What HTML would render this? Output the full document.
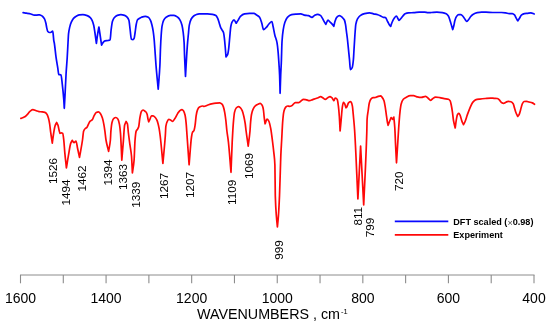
<!DOCTYPE html>
<html><head><meta charset="utf-8"><style>
html,body{margin:0;padding:0;background:#fff;width:550px;height:326px;overflow:hidden}
svg{display:block;will-change:transform}
.t{font-family:"Liberation Sans",sans-serif;font-size:14px;fill:#000}
.l{font-family:"Liberation Sans",sans-serif;font-size:11.7px;fill:#000}
.g{font-family:"Liberation Sans",sans-serif;font-size:9.1px;font-weight:bold;fill:#000}
</style></head><body>
<svg width="550" height="326" viewBox="0 0 550 326">
<path d="M23.10,12.70 C24.23,12.87 25.37,13.02 26.50,13.20 C27.97,13.44 29.43,13.65 30.90,14.00 C32.00,14.26 33.10,15.10 34.20,15.10 C35.10,15.10 36.00,15.10 36.90,15.10 C37.80,15.10 38.70,14.80 39.60,14.80 C40.53,14.80 41.47,15.51 42.40,16.20 C43.10,16.71 43.80,17.59 44.50,18.90 C44.97,19.78 45.43,21.40 45.90,23.30 C46.17,24.38 46.43,26.45 46.70,27.60 C47.07,29.18 47.43,31.11 47.80,31.50 C48.37,32.10 48.93,32.50 49.50,32.50 C50.03,32.50 50.57,32.36 51.10,32.20 C51.63,32.04 52.17,31.10 52.70,31.10 C52.90,31.10 53.10,33.59 53.30,35.30 C53.47,36.72 53.63,39.62 53.80,40.70 C53.97,41.78 54.13,42.07 54.30,43.00 C54.90,46.35 55.50,53.48 56.10,57.70 C56.70,61.92 57.30,64.83 57.90,68.80 C58.17,70.56 58.43,74.24 58.70,74.40 C59.47,74.85 60.23,74.58 61.00,75.00 C61.43,75.24 61.87,80.64 62.30,84.30 C62.80,88.52 63.30,93.21 63.80,99.90 C63.97,102.13 64.13,105.50 64.30,108.30 C64.53,104.00 64.77,99.87 65.00,95.40 C65.37,88.37 65.73,79.40 66.10,73.30 C66.47,67.20 66.83,63.61 67.20,57.70 C67.47,53.40 67.73,47.79 68.00,43.00 C68.17,40.01 68.33,35.79 68.50,34.20 C68.87,30.70 69.23,29.16 69.60,27.60 C70.17,25.19 70.73,23.48 71.30,22.20 C72.03,20.54 72.77,19.22 73.50,18.40 C74.40,17.39 75.30,16.71 76.20,16.20 C77.30,15.58 78.40,14.86 79.50,14.80 C80.63,14.74 81.77,14.70 82.90,14.70 C84.33,14.70 85.77,15.13 87.20,15.60 C88.23,15.94 89.27,16.63 90.30,17.60 C90.90,18.16 91.50,19.08 92.10,20.30 C92.63,21.38 93.17,22.99 93.70,25.20 C94.10,26.86 94.50,29.85 94.90,32.50 C95.40,35.81 95.90,39.83 96.40,43.50 C96.80,40.47 97.20,37.01 97.60,34.40 C98.03,31.58 98.47,29.47 98.90,27.00 C99.30,29.67 99.70,32.31 100.10,35.00 C100.60,38.37 101.10,41.80 101.60,45.20 C102.13,44.27 102.67,43.01 103.20,42.40 C103.80,41.72 104.40,41.04 105.00,40.90 C106.03,40.65 107.07,40.69 108.10,40.50 C108.77,40.38 109.43,40.33 110.10,39.90 C110.43,39.68 110.77,32.76 111.10,30.10 C111.53,26.65 111.97,22.90 112.40,21.50 C113.00,19.56 113.60,18.50 114.20,17.80 C115.23,16.59 116.27,15.73 117.30,15.40 C118.50,15.02 119.70,14.70 120.90,14.70 C122.13,14.70 123.37,15.02 124.60,15.40 C125.43,15.66 126.27,16.33 127.10,17.20 C127.70,17.82 128.30,18.54 128.90,20.30 C129.30,21.47 129.70,26.46 130.10,29.50 C130.53,32.79 130.97,39.08 131.40,39.30 C131.93,39.57 132.47,39.70 133.00,39.70 C133.40,39.70 133.80,39.01 134.20,38.10 C134.50,37.42 134.80,34.48 135.10,32.50 C135.50,29.86 135.90,25.90 136.30,24.00 C136.70,22.10 137.10,20.16 137.50,19.70 C137.83,19.32 138.17,19.22 138.50,19.00 C139.50,18.35 140.50,17.55 141.50,17.20 C142.73,16.77 143.97,16.30 145.20,16.30 C146.23,16.30 147.27,16.68 148.30,17.20 C149.03,17.57 149.77,18.82 150.50,20.30 C151.00,21.31 151.50,23.20 152.00,25.20 C152.40,26.80 152.80,28.72 153.20,31.30 C153.53,33.45 153.87,36.33 154.20,39.90 C154.40,42.04 154.60,45.22 154.80,48.00 C155.20,53.56 155.60,60.27 156.00,65.30 C156.73,74.51 157.47,81.23 158.20,89.20 C158.77,81.23 159.33,76.63 159.90,65.30 C160.10,61.30 160.30,52.54 160.50,48.00 C160.73,42.70 160.97,38.20 161.20,35.00 C161.47,31.35 161.73,27.98 162.00,26.40 C162.53,23.23 163.07,21.34 163.60,20.30 C164.43,18.68 165.27,17.75 166.10,17.20 C167.53,16.26 168.97,15.40 170.40,15.40 C171.60,15.40 172.80,15.40 174.00,15.40 C175.23,15.40 176.47,16.31 177.70,17.20 C178.53,17.80 179.37,18.85 180.20,20.30 C180.80,21.34 181.40,22.88 182.00,25.20 C182.40,26.74 182.80,29.32 183.20,32.50 C183.50,34.88 183.80,37.40 184.10,42.40 C184.27,45.18 184.43,52.70 184.60,56.90 C184.90,64.47 185.20,69.97 185.50,76.50 C185.87,69.97 186.23,62.75 186.60,56.90 C186.93,51.58 187.27,46.44 187.60,42.40 C187.83,39.57 188.07,37.38 188.30,35.00 C188.63,31.60 188.97,26.92 189.30,25.20 C189.93,21.93 190.57,20.14 191.20,19.00 C192.03,17.51 192.87,16.64 193.70,16.00 C194.47,15.41 195.23,14.98 196.00,14.70 C197.03,14.33 198.07,13.90 199.10,13.90 C201.90,13.90 204.70,13.90 207.50,13.90 C209.17,13.90 210.83,14.13 212.50,14.40 C213.63,14.58 214.77,14.91 215.90,15.60 C216.47,15.95 217.03,16.98 217.60,18.10 C218.17,19.22 218.73,21.43 219.30,23.20 C219.73,24.55 220.17,26.39 220.60,27.40 C221.00,28.33 221.40,28.89 221.80,29.60 C222.37,30.60 222.93,30.87 223.50,32.50 C223.80,33.36 224.10,35.97 224.40,38.40 C224.67,40.56 224.93,43.74 225.20,46.80 C225.47,49.86 225.73,53.53 226.00,56.90 C226.57,56.07 227.13,55.81 227.70,54.40 C228.00,53.65 228.30,51.48 228.60,49.30 C229.00,46.40 229.40,40.84 229.80,36.70 C230.13,33.25 230.47,28.37 230.80,26.50 C231.17,24.45 231.53,23.00 231.90,22.30 C232.60,20.96 233.30,19.80 234.00,19.80 C234.73,19.80 235.47,22.07 236.20,23.20 C236.87,22.17 237.53,21.17 238.20,20.10 C238.93,18.92 239.67,17.08 240.40,16.40 C241.80,15.10 243.20,14.14 244.60,13.90 C246.27,13.61 247.93,13.40 249.60,13.40 C251.07,13.40 252.53,13.40 254.00,13.40 C254.73,13.40 255.47,14.22 256.20,14.70 C257.33,15.45 258.47,15.90 259.60,17.30 C260.33,18.21 261.07,20.89 261.80,23.20 C262.37,24.99 262.93,29.60 263.50,29.60 C264.43,29.60 265.37,28.32 266.30,27.40 C267.17,26.55 268.03,24.89 268.90,24.00 C269.90,22.98 270.90,21.50 271.90,21.50 C272.30,21.50 272.70,24.69 273.10,26.50 C273.67,29.06 274.23,32.67 274.80,35.00 C275.53,38.02 276.27,38.84 277.00,42.60 C277.37,44.48 277.73,47.91 278.10,51.80 C278.37,54.63 278.63,58.88 278.90,63.00 C279.13,66.60 279.37,69.44 279.60,75.00 C279.77,78.97 279.93,87.20 280.10,93.30 C280.30,87.20 280.50,79.83 280.70,75.00 C280.90,70.17 281.10,67.80 281.30,63.00 C281.53,57.40 281.77,45.33 282.00,41.70 C282.40,35.48 282.80,32.41 283.20,29.90 C283.77,26.34 284.33,23.90 284.90,22.30 C285.73,19.94 286.57,18.12 287.40,17.30 C288.80,15.91 290.20,14.98 291.60,14.70 C293.00,14.42 294.40,14.31 295.80,14.20 C297.50,14.06 299.20,13.90 300.90,13.90 C302.03,13.90 303.17,14.89 304.30,15.10 C305.70,15.35 307.10,15.33 308.50,15.60 C309.67,15.83 310.83,17.30 312.00,17.30 C312.80,17.30 313.60,15.79 314.40,15.40 C315.47,14.88 316.53,14.30 317.60,14.30 C318.53,14.30 319.47,14.81 320.40,15.40 C321.10,15.84 321.80,17.26 322.50,18.40 C323.07,19.32 323.63,20.57 324.20,21.60 C324.73,22.57 325.27,23.47 325.80,24.40 C326.53,23.00 327.27,20.20 328.00,20.20 C328.73,20.20 329.47,21.50 330.20,22.20 C330.93,22.90 331.67,23.55 332.40,24.40 C332.87,24.94 333.33,25.67 333.80,26.30 C334.23,24.57 334.67,22.40 335.10,21.10 C335.63,19.50 336.17,17.85 336.70,17.30 C337.63,16.35 338.57,15.60 339.50,15.60 C340.40,15.60 341.30,16.54 342.20,17.30 C342.93,17.92 343.67,18.54 344.40,20.00 C344.77,20.73 345.13,22.47 345.50,24.40 C345.83,26.16 346.17,29.48 346.50,32.00 C346.77,34.01 347.03,35.76 347.30,38.00 C347.70,41.36 348.10,45.77 348.50,49.70 C348.83,52.98 349.17,56.11 349.50,59.60 C349.80,62.74 350.10,69.60 350.40,69.60 C351.00,69.60 351.60,68.80 352.20,67.60 C352.60,66.80 353.00,63.59 353.40,59.60 C353.60,57.61 353.80,52.97 354.00,49.70 C354.20,46.43 354.40,43.11 354.60,40.00 C354.80,36.89 355.00,33.54 355.20,31.00 C355.40,28.46 355.60,25.50 355.80,24.40 C356.37,21.30 356.93,19.94 357.50,18.90 C358.40,17.25 359.30,16.21 360.20,15.60 C361.63,14.64 363.07,14.04 364.50,13.70 C366.17,13.30 367.83,12.90 369.50,12.90 C370.83,12.90 372.17,13.51 373.50,13.80 C374.93,14.11 376.37,14.28 377.80,14.70 C378.90,15.02 380.00,15.67 381.10,16.20 C381.83,16.55 382.57,17.14 383.30,17.30 C384.03,17.46 384.77,17.41 385.50,17.60 C386.20,17.78 386.90,20.19 387.60,21.50 C388.17,22.56 388.73,23.87 389.30,24.70 C389.77,25.38 390.23,25.83 390.70,26.40 C391.13,25.10 391.57,23.54 392.00,22.50 C392.73,20.73 393.47,19.17 394.20,18.20 C394.93,17.23 395.67,16.00 396.40,16.00 C396.93,16.00 397.47,17.84 398.00,18.70 C398.37,19.29 398.73,20.40 399.10,20.40 C399.63,20.40 400.17,19.31 400.70,18.70 C401.43,17.87 402.17,16.81 402.90,16.00 C403.63,15.19 404.37,14.13 405.10,13.80 C406.20,13.31 407.30,12.98 408.40,12.90 C410.20,12.77 412.00,12.79 413.80,12.70 C415.63,12.60 417.47,12.20 419.30,12.20 C421.10,12.20 422.90,12.20 424.70,12.20 C425.80,12.20 426.90,12.70 428.00,12.70 C429.17,12.70 430.33,12.57 431.50,12.50 C433.30,12.40 435.10,12.20 436.90,12.20 C438.73,12.20 440.57,12.44 442.40,12.70 C443.67,12.88 444.93,13.20 446.20,13.80 C446.93,14.15 447.67,14.90 448.40,16.00 C448.93,16.80 449.47,18.78 450.00,20.40 C450.53,22.02 451.07,23.98 451.60,25.80 C451.97,27.05 452.33,28.33 452.70,29.60 C453.07,28.33 453.43,27.29 453.80,25.80 C454.17,24.31 454.53,21.62 454.90,20.40 C455.43,18.63 455.97,17.17 456.50,16.50 C457.23,15.58 457.97,14.70 458.70,14.70 C459.43,14.70 460.17,14.70 460.90,14.70 C461.63,14.70 462.37,15.72 463.10,16.50 C463.83,17.28 464.57,18.78 465.30,19.80 C465.73,20.40 466.17,21.50 466.60,21.50 C467.23,21.50 467.87,20.51 468.50,19.80 C469.23,18.98 469.97,17.36 470.70,16.50 C471.43,15.64 472.17,14.82 472.90,14.40 C474.37,13.55 475.83,12.96 477.30,12.70 C478.73,12.44 480.17,12.20 481.60,12.20 C483.07,12.20 484.53,12.20 486.00,12.20 C488.23,12.20 490.47,12.50 492.70,12.50 C495.63,12.50 498.57,12.50 501.50,12.50 C502.93,12.50 504.37,12.71 505.80,12.90 C506.90,13.04 508.00,13.60 509.10,13.60 C510.20,13.60 511.30,13.60 512.40,13.60 C513.10,13.60 513.80,14.23 514.50,14.90 C515.07,15.44 515.63,17.18 516.20,18.20 C516.73,19.16 517.27,20.00 517.80,20.90 C518.37,20.00 518.93,19.10 519.50,18.20 C520.20,17.09 520.90,15.42 521.60,14.90 C522.53,14.21 523.47,13.75 524.40,13.60 C525.47,13.43 526.53,13.41 527.60,13.30 C528.70,13.18 529.80,12.90 530.90,12.90 C532.00,12.90 533.10,13.63 534.20,14.00" fill="none" stroke="#0808ff" stroke-width="1.7" stroke-linejoin="round" stroke-linecap="round"/>
<path d="M20.90,118.40 C22.00,117.97 23.10,117.69 24.20,117.10 C25.10,116.62 26.00,115.75 26.90,114.90 C28.00,113.86 29.10,111.88 30.20,111.10 C31.10,110.46 32.00,109.70 32.90,109.70 C34.00,109.70 35.10,110.46 36.20,110.80 C37.10,111.08 38.00,111.47 38.90,111.60 C40.00,111.76 41.10,111.76 42.20,111.90 C43.10,112.01 44.00,112.12 44.90,112.40 C45.63,112.63 46.37,113.36 47.10,114.40 C47.57,115.06 48.03,116.55 48.50,118.20 C48.87,119.50 49.23,121.37 49.60,123.60 C49.97,125.83 50.33,129.71 50.70,132.40 C51.23,136.31 51.77,139.53 52.30,143.10 C52.73,139.90 53.17,136.14 53.60,133.50 C54.10,130.46 54.60,127.34 55.10,125.80 C55.60,124.26 56.10,123.60 56.60,122.50 C57.07,123.43 57.53,123.99 58.00,125.30 C58.37,126.33 58.73,128.76 59.10,130.20 C59.40,131.38 59.70,133.40 60.00,133.40 C60.43,133.40 60.87,132.80 61.30,132.80 C61.77,132.80 62.23,133.01 62.70,133.40 C63.07,133.70 63.43,137.24 63.80,140.30 C64.13,143.08 64.47,148.98 64.80,152.60 C65.33,158.39 65.87,162.80 66.40,167.90 C67.07,163.83 67.73,159.51 68.40,155.70 C69.17,151.32 69.93,145.62 70.70,143.40 C71.20,141.95 71.70,141.33 72.20,140.30 C72.80,141.07 73.40,142.60 74.00,142.60 C74.67,142.60 75.33,141.10 76.00,141.10 C76.50,141.10 77.00,145.68 77.50,148.00 C78.17,151.10 78.83,154.27 79.50,157.40 C80.50,151.60 81.50,146.89 82.50,140.00 C82.87,137.47 83.23,132.22 83.60,131.20 C84.17,129.62 84.73,129.04 85.30,128.50 C85.83,127.99 86.37,127.95 86.90,127.40 C87.43,126.85 87.97,125.12 88.50,124.10 C89.07,123.02 89.63,121.64 90.20,121.10 C90.93,120.40 91.67,120.46 92.40,119.70 C92.93,119.15 93.47,116.93 94.00,115.90 C94.73,114.49 95.47,112.74 96.20,112.40 C96.93,112.06 97.67,111.80 98.40,111.80 C99.10,111.80 99.80,112.78 100.50,113.70 C101.13,114.53 101.77,116.17 102.40,118.10 C102.87,119.52 103.33,121.68 103.80,124.10 C104.17,126.00 104.53,128.58 104.90,131.20 C105.27,133.82 105.63,137.85 106.00,140.00 C106.87,145.08 107.73,147.53 108.60,151.30 C109.20,147.53 109.80,146.10 110.40,140.00 C110.57,138.31 110.73,133.11 110.90,131.20 C111.27,127.00 111.63,123.91 112.00,122.50 C112.53,120.45 113.07,119.06 113.60,118.60 C114.33,117.97 115.07,117.50 115.80,117.50 C116.53,117.50 117.27,118.23 118.00,119.20 C118.47,119.82 118.93,121.75 119.40,124.10 C119.77,125.95 120.13,129.06 120.50,133.40 C120.93,138.53 121.37,151.20 121.80,160.10 C122.33,153.60 122.87,147.25 123.40,140.60 C123.80,135.61 124.20,127.03 124.60,125.30 C125.10,123.13 125.60,122.77 126.10,121.50 C126.53,122.27 126.97,122.47 127.40,123.80 C127.73,124.82 128.07,130.20 128.40,133.00 C128.93,137.48 129.47,141.25 130.00,145.20 C130.50,148.90 131.00,150.59 131.50,156.00 C131.80,159.24 132.10,167.27 132.40,172.90 C132.97,168.60 133.53,166.69 134.10,160.00 C134.40,156.46 134.70,144.27 135.00,140.60 C135.37,136.12 135.73,132.39 136.10,131.40 C136.60,130.06 137.10,129.99 137.60,129.10 C137.97,128.45 138.33,127.99 138.70,126.80 C139.10,125.50 139.50,119.86 139.90,117.70 C140.40,115.00 140.90,112.27 141.40,111.50 C141.93,110.68 142.47,110.00 143.00,110.00 C143.77,110.00 144.53,110.97 145.30,111.50 C145.53,111.66 145.77,111.76 146.00,112.00 C146.37,112.37 146.73,113.11 147.10,114.20 C147.40,115.09 147.70,117.75 148.00,119.10 C148.23,120.15 148.47,120.90 148.70,121.80 C149.07,121.07 149.43,120.37 149.80,119.60 C150.37,118.41 150.93,115.80 151.50,115.80 C152.03,115.80 152.57,115.80 153.10,115.80 C153.83,115.80 154.57,116.71 155.30,117.50 C155.83,118.08 156.37,119.03 156.90,120.20 C157.27,121.01 157.63,122.19 158.00,123.50 C158.37,124.81 158.73,126.41 159.10,128.40 C159.47,130.39 159.83,133.06 160.20,136.00 C161.10,143.22 162.00,154.33 162.90,163.50 C163.70,154.33 164.50,147.17 165.30,136.00 C165.50,133.21 165.70,127.46 165.90,126.20 C166.37,123.26 166.83,122.14 167.30,121.30 C167.83,120.34 168.37,119.40 168.90,119.40 C169.43,119.40 169.97,119.76 170.50,120.00 C171.23,120.33 171.97,121.30 172.70,121.30 C173.43,121.30 174.17,119.59 174.90,118.50 C175.80,117.16 176.70,114.97 177.60,113.60 C178.33,112.49 179.07,111.23 179.80,110.70 C180.53,110.17 181.27,109.60 182.00,109.60 C182.53,109.60 183.07,110.22 183.60,110.90 C184.10,111.54 184.60,113.12 185.10,115.30 C185.43,116.75 185.77,119.65 186.10,122.90 C186.40,125.83 186.70,130.87 187.00,135.00 C187.70,144.63 188.40,154.87 189.10,164.80 C189.90,155.53 190.70,142.27 191.50,137.00 C191.80,135.02 192.10,133.14 192.40,132.50 C192.93,131.37 193.47,131.60 194.00,130.50 C194.37,129.74 194.73,127.42 195.10,125.10 C195.47,122.78 195.83,117.42 196.20,115.30 C196.63,112.79 197.07,110.72 197.50,109.80 C198.17,108.38 198.83,107.48 199.50,107.10 C200.57,106.49 201.63,106.00 202.70,106.00 C203.13,106.00 203.57,106.40 204.00,106.40 C205.10,106.40 206.20,105.66 207.30,105.30 C208.73,104.83 210.17,104.23 211.60,103.90 C213.07,103.56 214.53,103.26 216.00,103.10 C217.27,102.96 218.53,102.80 219.80,102.80 C220.53,102.80 221.27,103.47 222.00,104.20 C222.47,104.66 222.93,105.66 223.40,106.90 C223.83,108.05 224.27,110.11 224.70,112.40 C225.07,114.34 225.43,117.00 225.80,120.00 C226.17,123.00 226.53,127.89 226.90,131.00 C227.40,135.24 227.90,137.51 228.40,141.90 C229.27,149.51 230.13,162.17 231.00,172.30 C231.40,162.17 231.80,150.21 232.20,141.90 C232.40,137.74 232.60,134.19 232.80,131.00 C233.03,127.28 233.27,123.65 233.50,121.10 C233.83,117.46 234.17,113.80 234.50,112.40 C235.07,110.03 235.63,108.56 236.20,108.00 C236.93,107.27 237.67,106.70 238.40,106.70 C239.10,106.70 239.80,107.23 240.50,107.80 C241.07,108.26 241.63,109.40 242.20,110.70 C242.73,111.92 243.27,113.98 243.80,116.20 C244.27,118.14 244.73,120.46 245.20,123.50 C245.50,125.46 245.80,128.66 246.10,131.00 C246.80,136.46 247.50,141.07 248.20,146.10 C248.80,141.07 249.40,137.71 250.00,131.00 C250.20,128.76 250.40,124.40 250.60,122.20 C250.90,118.90 251.20,116.04 251.50,114.50 C251.97,112.11 252.43,110.65 252.90,109.60 C253.70,107.80 254.50,106.50 255.30,105.80 C256.20,105.02 257.10,104.60 258.00,104.20 C258.73,103.87 259.47,103.40 260.20,103.40 C260.73,103.40 261.27,104.03 261.80,104.70 C262.17,105.16 262.53,106.05 262.90,107.30 C263.10,107.98 263.30,109.13 263.50,110.50 C263.73,112.10 263.97,115.46 264.20,117.40 C264.50,119.90 264.80,121.67 265.10,123.80 C265.73,122.27 266.37,119.20 267.00,119.20 C267.60,119.20 268.20,120.11 268.80,121.10 C269.43,122.14 270.07,125.22 270.70,128.40 C271.30,131.41 271.90,136.60 272.50,141.30 C272.93,144.69 273.37,148.14 273.80,152.40 C274.17,156.00 274.53,156.74 274.90,165.00 C275.03,168.01 275.17,191.38 275.30,195.80 C275.67,207.96 276.03,211.40 276.40,216.30 C276.73,220.76 277.07,223.30 277.40,226.80 C277.73,223.30 278.07,220.76 278.40,216.30 C278.77,211.40 279.13,204.35 279.50,195.80 C279.83,188.03 280.17,175.04 280.50,165.00 C280.60,161.99 280.70,158.47 280.80,156.10 C281.10,149.00 281.40,145.03 281.70,139.50 C282.00,133.97 282.30,127.21 282.60,122.90 C282.73,120.99 282.87,119.37 283.00,118.00 C283.20,115.95 283.40,113.87 283.60,112.80 C283.93,111.01 284.27,109.86 284.60,109.10 C285.10,107.95 285.60,107.05 286.10,106.70 C286.63,106.33 287.17,106.00 287.70,106.00 C288.30,106.00 288.90,106.30 289.50,106.30 C290.23,106.30 290.97,106.02 291.70,105.70 C291.97,105.58 292.23,105.31 292.50,105.10 C293.43,104.35 294.37,102.60 295.30,102.60 C296.37,102.60 297.43,102.60 298.50,102.60 C299.23,102.60 299.97,101.76 300.70,101.30 C301.63,100.71 302.57,99.40 303.50,99.40 C304.20,99.40 304.90,99.51 305.60,99.60 C306.90,99.78 308.20,100.70 309.50,100.70 C310.57,100.70 311.63,99.96 312.70,99.60 C313.80,99.23 314.90,98.88 316.00,98.50 C316.73,98.24 317.47,98.00 318.20,97.70 C319.00,97.38 319.80,96.60 320.60,96.60 C321.43,96.60 322.27,97.50 323.10,98.00 C323.83,98.44 324.57,99.40 325.30,99.40 C326.20,99.40 327.10,97.99 328.00,97.50 C328.67,97.14 329.33,96.60 330.00,96.60 C330.60,96.60 331.20,97.18 331.80,97.70 C332.37,98.19 332.93,99.55 333.50,100.20 C333.67,100.39 333.83,100.70 334.00,100.70 C334.37,100.70 334.73,98.00 335.10,98.00 C335.40,98.00 335.70,98.15 336.00,98.30 C336.43,98.51 336.87,98.84 337.30,99.60 C337.67,100.24 338.03,103.34 338.40,106.20 C338.70,108.54 339.00,111.85 339.30,116.00 C339.57,119.69 339.83,126.00 340.10,131.00 C340.47,127.10 340.83,123.25 341.20,119.30 C341.57,115.35 341.93,109.62 342.30,107.30 C342.67,104.98 343.03,102.40 343.40,102.40 C343.77,102.40 344.13,102.97 344.50,103.50 C345.00,104.22 345.50,106.37 346.00,107.80 C346.30,107.43 346.60,107.17 346.90,106.70 C347.43,105.86 347.97,103.52 348.50,102.90 C349.07,102.24 349.63,101.60 350.20,101.60 C350.57,101.60 350.93,101.96 351.30,102.40 C351.67,102.84 352.03,104.30 352.40,106.20 C352.67,107.59 352.93,111.10 353.20,113.80 C353.47,116.50 353.73,119.39 354.00,122.50 C354.20,124.83 354.40,127.04 354.60,130.00 C355.70,146.27 356.80,176.00 357.90,199.00 C358.80,181.33 359.70,163.67 360.60,146.00 C361.63,165.67 362.67,185.33 363.70,205.00 C364.73,180.67 365.77,165.93 366.80,132.00 C366.90,128.72 367.00,120.85 367.10,119.30 C367.47,113.63 367.83,113.22 368.20,110.50 C368.57,107.78 368.93,104.24 369.30,102.90 C369.83,100.96 370.37,99.65 370.90,99.10 C371.63,98.34 372.37,97.82 373.10,97.70 C373.83,97.58 374.57,97.61 375.30,97.50 C376.03,97.39 376.77,96.83 377.50,96.60 C378.57,96.26 379.63,95.80 380.70,95.80 C381.07,95.80 381.43,96.45 381.80,96.90 C382.53,97.80 383.27,98.71 384.00,100.70 C384.37,101.70 384.73,104.07 385.10,106.20 C385.47,108.33 385.83,111.25 386.20,113.80 C386.57,116.35 386.93,119.45 387.30,121.50 C387.57,122.99 387.83,124.03 388.10,125.30 C388.57,124.03 389.03,122.70 389.50,121.50 C390.03,120.13 390.57,118.90 391.10,117.60 C391.57,118.17 392.03,118.73 392.50,119.30 C392.93,118.57 393.37,117.83 393.80,117.10 C394.13,120.63 394.47,122.85 394.80,127.70 C395.07,131.58 395.33,139.99 395.60,145.50 C395.90,151.70 396.20,157.03 396.50,162.80 C396.87,157.03 397.23,151.35 397.60,145.50 C397.97,139.65 398.33,132.83 398.70,127.70 C399.13,121.64 399.57,115.60 400.00,111.80 C400.37,108.59 400.73,105.51 401.10,104.20 C401.83,101.58 402.57,100.10 403.30,99.30 C404.20,98.32 405.10,97.86 406.00,97.40 C407.47,96.65 408.93,95.70 410.40,95.70 C411.47,95.70 412.53,95.70 413.60,95.70 C414.70,95.70 415.80,96.58 416.90,96.80 C418.37,97.09 419.83,97.40 421.30,97.40 C422.73,97.40 424.17,96.30 425.60,96.30 C426.53,96.30 427.47,97.71 428.40,98.50 C429.10,99.09 429.80,100.40 430.50,100.40 C431.23,100.40 431.97,99.18 432.70,98.70 C433.63,98.08 434.57,97.10 435.50,97.10 C436.93,97.10 438.37,97.37 439.80,97.60 C441.27,97.83 442.73,98.44 444.20,98.70 C445.63,98.96 447.07,98.91 448.50,99.30 C449.07,99.45 449.63,100.00 450.20,100.90 C450.57,101.48 450.93,103.55 451.30,105.30 C451.67,107.05 452.03,109.32 452.40,111.80 C452.77,114.28 453.13,118.38 453.50,120.50 C454.07,123.78 454.63,125.50 455.20,128.00 C455.60,125.10 456.00,121.50 456.40,119.30 C456.77,117.28 457.13,114.90 457.50,114.40 C457.97,113.76 458.43,113.30 458.90,113.30 C459.33,113.30 459.77,114.53 460.20,115.50 C460.73,116.69 461.27,119.46 461.80,120.90 C462.37,122.43 462.93,123.43 463.50,124.70 C464.03,123.63 464.57,122.77 465.10,121.50 C465.83,119.76 466.57,116.96 467.30,114.90 C468.20,112.37 469.10,109.84 470.00,107.80 C470.90,105.76 471.80,103.51 472.70,102.40 C473.63,101.25 474.57,100.20 475.50,99.90 C476.93,99.44 478.37,99.30 479.80,99.10 C481.63,98.85 483.47,98.66 485.30,98.50 C487.10,98.34 488.90,98.10 490.70,98.10 C491.80,98.10 492.90,98.23 494.00,98.30 C495.10,98.37 496.20,98.37 497.30,98.50 C497.90,98.57 498.50,99.19 499.10,99.70 C499.87,100.35 500.63,102.03 501.40,102.50 C502.13,102.95 502.87,103.40 503.60,103.40 C504.37,103.40 505.13,102.54 505.90,102.20 C506.67,101.86 507.43,101.30 508.20,101.30 C509.10,101.30 510.00,101.52 510.90,101.80 C511.67,102.04 512.43,102.70 513.20,103.80 C513.63,104.42 514.07,106.51 514.50,107.90 C514.97,109.40 515.43,111.27 515.90,112.50 C516.50,114.08 517.10,115.10 517.70,116.40 C518.17,115.83 518.63,115.52 519.10,114.70 C519.57,113.88 520.03,111.77 520.50,110.20 C521.10,108.18 521.70,104.93 522.30,103.80 C522.90,102.67 523.50,101.60 524.10,101.50 C524.87,101.37 525.63,101.30 526.40,101.30 C527.30,101.30 528.20,101.76 529.10,102.00 C530.17,102.29 531.23,102.47 532.30,102.90 C533.03,103.19 533.77,103.83 534.50,104.30" fill="none" stroke="#ff0808" stroke-width="1.7" stroke-linejoin="round" stroke-linecap="round"/>
<line x1="20.0" y1="275" x2="534.5" y2="275" stroke="#8c8c8c" stroke-width="1"/>
<line x1="20.50" y1="275" x2="20.50" y2="283.3" stroke="#8c8c8c" stroke-width="1.1"/>
<line x1="63.29" y1="275" x2="63.29" y2="283.3" stroke="#8c8c8c" stroke-width="1.1"/>
<line x1="106.08" y1="275" x2="106.08" y2="283.3" stroke="#8c8c8c" stroke-width="1.1"/>
<line x1="148.88" y1="275" x2="148.88" y2="283.3" stroke="#8c8c8c" stroke-width="1.1"/>
<line x1="191.67" y1="275" x2="191.67" y2="283.3" stroke="#8c8c8c" stroke-width="1.1"/>
<line x1="234.46" y1="275" x2="234.46" y2="283.3" stroke="#8c8c8c" stroke-width="1.1"/>
<line x1="277.25" y1="275" x2="277.25" y2="283.3" stroke="#8c8c8c" stroke-width="1.1"/>
<line x1="320.04" y1="275" x2="320.04" y2="283.3" stroke="#8c8c8c" stroke-width="1.1"/>
<line x1="362.83" y1="275" x2="362.83" y2="283.3" stroke="#8c8c8c" stroke-width="1.1"/>
<line x1="405.62" y1="275" x2="405.62" y2="283.3" stroke="#8c8c8c" stroke-width="1.1"/>
<line x1="448.42" y1="275" x2="448.42" y2="283.3" stroke="#8c8c8c" stroke-width="1.1"/>
<line x1="491.21" y1="275" x2="491.21" y2="283.3" stroke="#8c8c8c" stroke-width="1.1"/>
<line x1="534.00" y1="275" x2="534.00" y2="283.3" stroke="#8c8c8c" stroke-width="1.1"/>
<text x="20.50" y="303" text-anchor="middle" class="t">1600</text>
<text x="106.08" y="303" text-anchor="middle" class="t">1400</text>
<text x="191.67" y="303" text-anchor="middle" class="t">1200</text>
<text x="277.25" y="303" text-anchor="middle" class="t">1000</text>
<text x="362.83" y="303" text-anchor="middle" class="t">800</text>
<text x="448.42" y="303" text-anchor="middle" class="t">600</text>
<text x="534.00" y="303" text-anchor="middle" class="t">400</text>
<text x="197" y="319" class="t" style="font-size:14.3px">WAVENUMBERS , cm<tspan dx="1" dy="-5" font-size="7.5">-1</tspan></text>
<text transform="translate(56.6,183.9) rotate(-90)" class="l">1526</text>
<text transform="translate(70.2,205.6) rotate(-90)" class="l">1494</text>
<text transform="translate(86.2,191.5) rotate(-90)" class="l">1462</text>
<text transform="translate(112.3,185.6) rotate(-90)" class="l">1394</text>
<text transform="translate(127.3,190.1) rotate(-90)" class="l">1363</text>
<text transform="translate(140.1,207.8) rotate(-90)" class="l">1339</text>
<text transform="translate(168.4,199.0) rotate(-90)" class="l">1267</text>
<text transform="translate(194.3,198.1) rotate(-90)" class="l">1207</text>
<text transform="translate(235.6,204.9) rotate(-90)" class="l">1109</text>
<text transform="translate(252.8,178.9) rotate(-90)" class="l">1069</text>
<text transform="translate(282.8,259.7) rotate(-90)" class="l">999</text>
<text transform="translate(361.6,225.6) rotate(-90)" class="l">811</text>
<text transform="translate(374.0,237.3) rotate(-90)" class="l">799</text>
<text transform="translate(402.6,190.9) rotate(-90)" class="l">720</text>
<line x1="394.8" y1="221.4" x2="448.3" y2="221.4" stroke="#0808ff" stroke-width="1.8"/>
<line x1="394.8" y1="234.9" x2="448.3" y2="234.9" stroke="#ff0808" stroke-width="1.8"/>
<text x="453.3" y="225" class="g">DFT scaled (<tspan font-weight="normal" dy="0.8" fill="#444">×</tspan><tspan dy="-0.8">0.98)</tspan></text>
<text x="453.3" y="237.6" class="g">Experiment</text>
</svg>
</body></html>
